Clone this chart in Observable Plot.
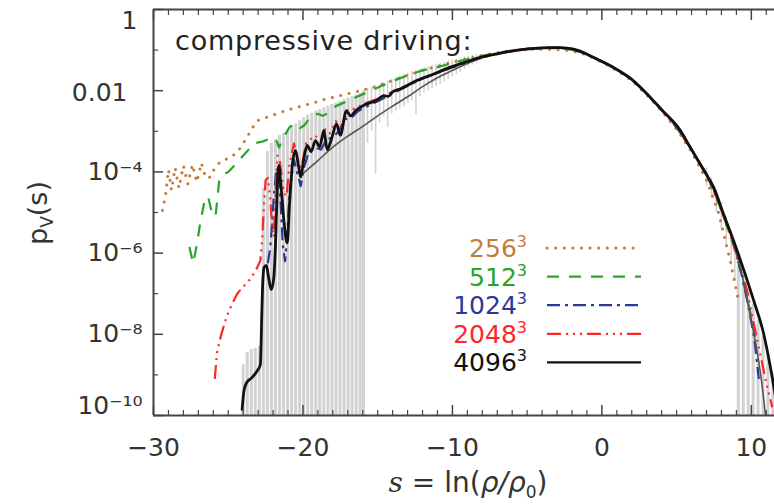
<!DOCTYPE html>
<html><head><meta charset="utf-8">
<script src="https://cdn.jsdelivr.net/npm/d3@7"></script>
<script src="https://cdn.jsdelivr.net/npm/@observablehq/plot@0.6"></script>
<style>html,body{margin:0;padding:0;background:#fff;overflow:hidden} svg{display:block}</style>
</head><body><div id="chart"></div>
<script>
// ---- axes ----
const xDomain = [-30, 11.55];
const yDomain = [1e-10, 1];
const xMajor = [-30, -20, -10, 0, 10];
const xMinor = d3.range(-29, 12, 1).filter(v => v % 10 !== 0);
const yMajor = [1, 1e-2, 1e-4, 1e-6, 1e-8, 1e-10];
const yMinor = [1e-1, 1e-3, 1e-5, 1e-7, 1e-9];
const yLabels = ["1", "0.01", "10⁻⁴", "10⁻⁶", "10⁻⁸", "10⁻¹⁰"];

// ---- series: [s, log10 p] ----
const run256 = [[-29.4,-4.95],[-29.2,-4.6],[-29.0,-3.95],[-28.8,-4.45],[-28.55,-3.9],[-28.3,-4.4],[-28.0,-3.85],[-27.7,-4.3],[-27.4,-3.82],[-27.1,-4.25],[-26.8,-3.78],[-26.5,-4.15],[-26.2,-4.13],[-25.9,-3.9],[-25.5,-3.74],[-25.1,-3.68],[-24.7,-3.6],[-24.4,-3.52],[-24.0,-3.3],[-23.7,-3.12],[-23.35,-2.9],[-23.05,-2.74],[-22.6,-2.68],[-22.0,-2.6],[-21.4,-2.52],[-20.8,-2.45],[-20.0,-2.37],[-19.3,-2.3],[-18.5,-2.21],[-17.5,-2.12],[-16.5,-2.03],[-15.3,-1.92],[-14.0,-1.75],[-13,-1.62],[-12,-1.5],[-11,-1.4],[-10,-1.3],[-9,-1.21],[-8,-1.13],[-7,-1.06],[-6,-1.01],[-5,-0.98],[-4,-0.98],[-3,-0.99],[-2,-1.02],[-1,-1.12],[0,-1.3],[1,-1.5],[2,-1.75],[3,-2.1],[4,-2.5],[5,-2.95],[6,-3.5],[7,-4.2],[7.8,-5.0],[8.6,-6.2],[9.1,-7.1]];
const run512 = [[-27.6,-5.85],[-27.35,-6.25],[-27.1,-5.8],[-26.85,-5.2],[-26.6,-4.75],[-26.35,-4.6],[-26.1,-5.0],[-25.85,-5.1],[-25.6,-4.2],[-25.3,-4.05],[-25.0,-4.0],[-24.6,-3.85],[-24.2,-3.68],[-23.75,-3.5],[-23.3,-3.3],[-22.7,-3.25],[-22.0,-3.15],[-21.75,-3.25],[-21.6,-3.4],[-21.3,-3.15],[-20.9,-2.9],[-20.5,-2.8],[-20.2,-2.92],[-19.9,-2.85],[-19.5,-2.65],[-19.0,-2.57],[-18.7,-2.62],[-18.3,-2.55],[-17.8,-2.38],[-17.3,-2.3],[-16.5,-2.17],[-15.7,-2.04],[-14.3,-1.81],[-13,-1.62],[-12,-1.5],[-11,-1.42],[-10,-1.32],[-9,-1.22],[-8,-1.14],[-7,-1.07],[-6,-1.01],[-5,-0.97],[-4,-0.95],[-3,-0.95],[-2,-0.99],[-1,-1.1],[0,-1.28],[1,-1.48],[2,-1.72],[3,-2.07],[4,-2.47],[5,-2.9],[6,-3.45],[7,-4.05],[8,-4.95],[8.8,-5.8],[9.4,-6.6],[9.9,-7.4],[10.3,-8.1]];
const run1024 = [[-22.35,-6.25],[-22.2,-5.9],[-22.05,-5.2],[-21.95,-4.6],[-21.8,-4.0],[-21.65,-3.9],[-21.5,-4.7],[-21.35,-5.8],[-21.2,-6.2],[-21.05,-5.6],[-20.9,-4.5],[-20.6,-3.7],[-20.4,-4.0],[-20.15,-4.35],[-19.9,-3.85],[-19.6,-3.5],[-19.2,-3.4],[-18.8,-3.45],[-18.4,-3.2],[-18.0,-3.15],[-17.6,-3.0],[-17.2,-2.7],[-16.8,-2.68],[-16.3,-2.5],[-15.8,-2.4],[-15.0,-2.26],[-14,-2.07],[-13,-1.88],[-12,-1.7],[-11,-1.56],[-10,-1.43],[-9,-1.3],[-8,-1.18],[-7,-1.09],[-6,-1.02],[-5,-0.97],[-4,-0.95],[-3,-0.94],[-2,-0.97],[-1,-1.1],[0,-1.28],[1,-1.48],[2,-1.72],[3,-2.07],[4,-2.47],[5,-2.9],[6,-3.45],[7,-4.05],[8,-4.9],[8.7,-5.6],[9.3,-6.45],[9.8,-7.3],[10.2,-8.1],[10.5,-9.1]];
const run2048 = [[-25.9,-9.1],[-25.75,-8.45],[-25.5,-8.05],[-25.1,-7.55],[-24.8,-7.3],[-24.4,-7.0],[-24.0,-6.83],[-23.5,-6.63],[-23.05,-6.35],[-22.85,-6.18],[-22.72,-5.6],[-22.62,-4.9],[-22.5,-4.2],[-22.35,-4.15],[-22.2,-4.6],[-22.05,-5.4],[-21.95,-5.6],[-21.85,-4.6],[-21.7,-3.6],[-21.55,-3.7],[-21.3,-4.5],[-21.1,-4.6],[-20.9,-3.8],[-20.6,-3.3],[-20.35,-3.7],[-20.1,-3.9],[-19.8,-3.3],[-19.5,-3.2],[-19.2,-3.1],[-18.8,-3.25],[-18.5,-2.95],[-18.2,-3.05],[-17.8,-2.75],[-17.4,-2.9],[-17.0,-2.45],[-16.5,-2.45],[-16,-2.33],[-15,-2.2],[-14,-2.02],[-13,-1.86],[-12,-1.7],[-11,-1.56],[-10,-1.42],[-9,-1.29],[-8,-1.17],[-7,-1.08],[-6,-1.01],[-5,-0.97],[-4,-0.94],[-3,-0.94],[-2,-0.97],[-1,-1.1],[0,-1.28],[1,-1.48],[2,-1.72],[3,-2.07],[4,-2.47],[5,-2.9],[6,-3.45],[7,-4.05],[8,-4.95],[9,-6.0],[9.7,-6.9],[10.15,-7.7],[10.6,-8.5],[11.0,-9.2],[11.4,-9.8]];
const run4096 = [[-24.07,-9.85],[-23.95,-9.4],[-23.75,-9.18],[-23.45,-9.08],[-23.1,-8.92],[-22.85,-8.75],[-22.76,-7.6],[-22.7,-6.8],[-22.6,-6.35],[-22.45,-6.3],[-22.3,-6.6],[-22.12,-6.9],[-21.95,-6.6],[-21.82,-5.6],[-21.72,-4.4],[-21.62,-3.84],[-21.48,-4.3],[-21.25,-5.3],[-21.05,-5.75],[-20.9,-4.8],[-20.7,-3.8],[-20.5,-3.47],[-20.3,-3.85],[-20.15,-4.13],[-19.95,-3.7],[-19.72,-3.35],[-19.45,-3.5],[-19.17,-3.23],[-18.88,-3.38],[-18.6,-2.98],[-18.38,-3.45],[-18.1,-3.2],[-17.75,-2.82],[-17.5,-3.1],[-17.1,-2.5],[-16.8,-2.62],[-16.5,-2.5],[-16.2,-2.42],[-15.9,-2.35],[-15.5,-2.3],[-15.0,-2.22],[-14.6,-2.12],[-14.3,-2.14],[-14.0,-2.03],[-13.5,-1.96],[-12.5,-1.77],[-11.25,-1.59],[-10.35,-1.45],[-9,-1.28],[-8.13,-1.18],[-7,-1.09],[-5.92,-1.02],[-4.5,-0.96],[-3.67,-0.94],[-2.8,-0.94],[-2.33,-0.95],[-1.5,-1.02],[-1,-1.1],[0,-1.28],[0.79,-1.43],[2,-1.72],[3.02,-2.08],[4,-2.47],[5.25,-2.98],[5.92,-3.4],[6.8,-3.95],[7.48,-4.38],[8.15,-5.05],[9.04,-5.93],[10.15,-7.16],[10.82,-7.98],[11.27,-8.8],[11.6,-9.5]];
const modelFit = [[-20.2,-4.1],[-19,-3.72],[-18,-3.39],[-17,-3.12],[-16,-2.88],[-15,-2.62],[-14,-2.38],[-13,-2.15],[-12,-1.9],[-11,-1.68],[-10,-1.5],[-9,-1.33],[-8,-1.19],[-7,-1.09],[-6,-1.02],[-5,-0.97],[-4,-0.945],[-3,-0.94],[-2,-0.97],[-1,-1.1],[0,-1.28],[1,-1.48],[2,-1.72],[3,-2.07],[4,-2.47],[5,-2.88],[6,-3.45],[7,-4.05],[8,-4.9],[8.7,-5.6],[9.3,-6.4],[9.7,-7.1],[10.1,-7.85],[10.4,-8.45],[10.7,-9.2],[10.95,-10]];

// ---- error bars: [s, log10 low, log10 high] ----
const errFull = [[-24.0,-10,-8.75],[-23.73,-10,-8.45],[-23.46,-10,-8.38],[-23.19,-10,-8.35],[-22.92,-10,-8.3],[-22.65,-10,-4.4],[-22.38,-10,-3.5],[-22.11,-10,-3.3],[-21.84,-10,-3.2],[-21.57,-10,-3.1],[-21.3,-10,-3.05],[-21.03,-10,-2.98],[-20.76,-10,-2.9],[-20.49,-10,-2.82],[-20.22,-10,-2.74],[-19.95,-10,-2.66],[-19.68,-10,-2.6],[-19.41,-10,-2.55],[-19.14,-10,-2.5],[-18.87,-10,-2.46],[-18.6,-10,-2.42],[-18.33,-10,-2.38],[-18.06,-10,-2.34],[-17.79,-10,-2.3],[-17.52,-10,-2.26],[-17.25,-10,-2.22],[-16.98,-10,-2.18],[-16.71,-10,-2.14],[-16.44,-10,-2.1],[-16.17,-10,-2.05],[-15.95,-10,-2.0],[9.13,-10,-6.3],[9.46,-10,-6.6],[9.79,-10,-6.95],[10.12,-10,-7.25],[10.45,-10,-7.65],[10.78,-10,-8.05],[11.11,-10,-8.5],[11.44,-10,-8.95]];
const errPart = [[-15.68,-3.3,-1.95],[-15.41,-3.0,-1.92],[-15.14,-4.05,-1.88],[-14.87,-2.8,-1.85],[-14.6,-2.65,-1.8],[-14.33,-2.9,-1.76],[-14.06,-2.57,-1.72],[-13.79,-2.5,-1.68],[-13.52,-2.45,-1.64],[-13.25,-2.4,-1.6],[-12.98,-2.3,-1.57],[-12.71,-2.25,-1.53],[-12.44,-2.6,-1.5],[-12.17,-2.15,-1.47],[-11.9,-2.05,-1.44],[-11.63,-2.0,-1.41],[-11.36,-1.95,-1.38],[-11.09,-1.9,-1.35],[-10.82,-1.85,-1.33],[-10.55,-1.78,-1.3],[-10.28,-1.72,-1.27],[-10.01,-1.66,-1.25],[-9.74,-1.6,-1.22],[-9.47,-1.55,-1.2],[-9.2,-1.48,-1.17],[-8.93,-1.42,-1.15],[-8.66,-1.37,-1.13],[-8.39,-1.32,-1.11],[7.0,-4.35,-3.9],[7.33,-4.65,-4.15],[7.66,-5.0,-4.45],[7.99,-5.4,-4.75],[8.32,-5.85,-5.1],[8.65,-6.3,-5.45],[8.9,-6.7,-5.75]];

// ---- legend ----
const legendNames = ["256", "512", "1024", "2048", "4096"];
const legendColors = ["#c47e3a", "#27a527", "#2b3a94", "#ff2626", "#111111"];
const legendDash = ["0.1 8.5", "12 10", "13 5 3 5", "14 5 2 5 2 5 2 5", null];
const legendWidths = [3, 2.2, 2.2, 2.2, 2.4];
const runs = [run256, run512, run1024, run2048, run4096];

const rows = arr => arr.map(([s, lp]) => ({s, p: Math.pow(10, lp)}));
const errRows = arr => arr.map(([s, lo, hi]) => ({s, lo: Math.pow(10, lo), hi: Math.pow(10, hi)}));
const FONT = "DejaVu Sans";
const AX = "#444";

const lineMarks = runs.slice(0, 4).map((r, i) => Plot.line(rows(r), {
  x: "s", y: "p", stroke: legendColors[i], strokeWidth: legendWidths[i],
  strokeDasharray: legendDash[i], strokeLinecap: i === 0 ? "round" : "butt", clip: true
}));

const tickOpts = (anchor, size, w) => ({anchor, tickSize: size, tickFormat: () => "", label: null, stroke: AX, strokeWidth: w});

const chart = Plot.plot({
  width: 774, height: 504,
  marginLeft: 153, marginRight: 0, marginTop: 9, marginBottom: 89,
  style: {fontFamily: FONT, fontSize: "25px", color: "#333", background: "#fff"},
  x: {domain: xDomain, axis: null},
  y: {type: "log", domain: yDomain, axis: null},
  marks: [
    Plot.ruleX(errRows(errFull), {x: "s", y1: "lo", y2: "hi", stroke: "#d2d2d2", strokeWidth: 3, clip: true}),
    Plot.ruleX(errRows(errPart), {x: "s", y1: "lo", y2: "hi", stroke: "#d2d2d2", strokeWidth: 1.6, clip: true}),
    ...lineMarks,
    Plot.line(rows(modelFit), {x: "s", y: "p", stroke: "#555", strokeWidth: 1.6, curve: "monotone-x", clip: true}),
    Plot.line(rows(run4096), {x: "s", y: "p", stroke: "#111", strokeWidth: 2.8, curve: "monotone-x", clip: true}),
    // frame
    Plot.ruleX([xDomain[0]], {stroke: AX, strokeWidth: 2}),
    Plot.ruleY([yDomain[0]], {stroke: AX, strokeWidth: 2}),
    Plot.ruleY([yDomain[1]], {stroke: AX, strokeWidth: 2}),
    // inward ticks
    Plot.axisX(xMajor, tickOpts("bottom", -10, 1.5)),
    Plot.axisX(xMinor, tickOpts("bottom", -5, 1.2)),
    Plot.axisX(xMajor, tickOpts("top", -10, 1.5)),
    Plot.axisX(xMinor, tickOpts("top", -5, 1.2)),
    Plot.axisY(yMajor, tickOpts("left", -10, 1.5)),
    Plot.axisY(yMinor, tickOpts("left", -5, 1.2)),
    // tick labels
    Plot.axisX(xMajor, {anchor: "bottom", tickSize: 0, tickPadding: 23, fontSize: 25, fill: "#333", label: null,
      tickFormat: d => d < 0 ? "\u2212" + (-d) : String(d)}),
    Plot.text(yMajor.slice(2, 5), {y: d => d, frameAnchor: "left", dx: -11, textAnchor: "end", fontSize: 25, fill: "#333",
      text: (d, i) => yLabels[i + 2]}),
    Plot.text([yMajor[0]], {y: d => d, frameAnchor: "left", dx: -16, dy: 11, textAnchor: "end", fontSize: 25, fill: "#333", text: () => yLabels[0]}),
    Plot.text([yMajor[1]], {y: d => d, frameAnchor: "left", dx: -26, dy: 2, textAnchor: "end", fontSize: 25, fill: "#333", text: () => yLabels[1]}),
    Plot.text([yMajor[5]], {y: d => d, frameAnchor: "left", dx: -11, dy: -10, textAnchor: "end", fontSize: 25, fill: "#333", text: () => yLabels[5]})
  ]
});
document.getElementById("chart").appendChild(chart);

// ---- annotations ----
const svg = d3.select(chart);
svg.append("text").attr("x", 175).attr("y", 50).attr("text-anchor", "start").attr("font-family", FONT).attr("font-size", 27)
  .attr("letter-spacing", 0.8).attr("fill", "#222").text("compressive driving:");

// x label
const xl = svg.append("text").attr("x", 468).attr("y", 492).attr("text-anchor", "middle")
  .attr("font-family", FONT).attr("font-size", 28).attr("fill", "#333");
xl.append("tspan").attr("font-family", "DejaVu Serif").attr("font-style", "italic").text("s");
xl.append("tspan").text(" = ln(");
xl.append("tspan").attr("font-style", "italic").text("\u03c1/\u03c1");
xl.append("tspan").attr("font-size", 17).attr("dy", 6).text("0");
xl.append("tspan").attr("dy", -6).text(")");

// y label
const yl = svg.append("text").attr("transform", "translate(47,213) rotate(-90)").attr("text-anchor", "middle")
  .attr("font-family", FONT).attr("font-size", 27).attr("fill", "#333");
yl.append("tspan").text("p");
yl.append("tspan").attr("font-size", 17).attr("dy", 6).text("V");
yl.append("tspan").attr("dy", -6).text("(s)");

// legend
const lg = svg.append("g");
legendNames.forEach((name, i) => {
  const cy = 248 + i * 28.6;
  const t = lg.append("text").attr("x", 527).attr("y", cy + 9).attr("text-anchor", "end")
    .attr("font-family", FONT).attr("font-size", 25).attr("fill", legendColors[i]);
  t.append("tspan").text(name);
  t.append("tspan").attr("font-size", 16).attr("dy", -10).text("3");
  lg.append("line").attr("x1", 547).attr("x2", 641).attr("y1", cy).attr("y2", cy)
    .attr("stroke", legendColors[i]).attr("stroke-width", legendWidths[i])
    .attr("stroke-dasharray", legendDash[i]).attr("stroke-linecap", i === 0 ? "round" : "butt");
});
</script></body></html>
